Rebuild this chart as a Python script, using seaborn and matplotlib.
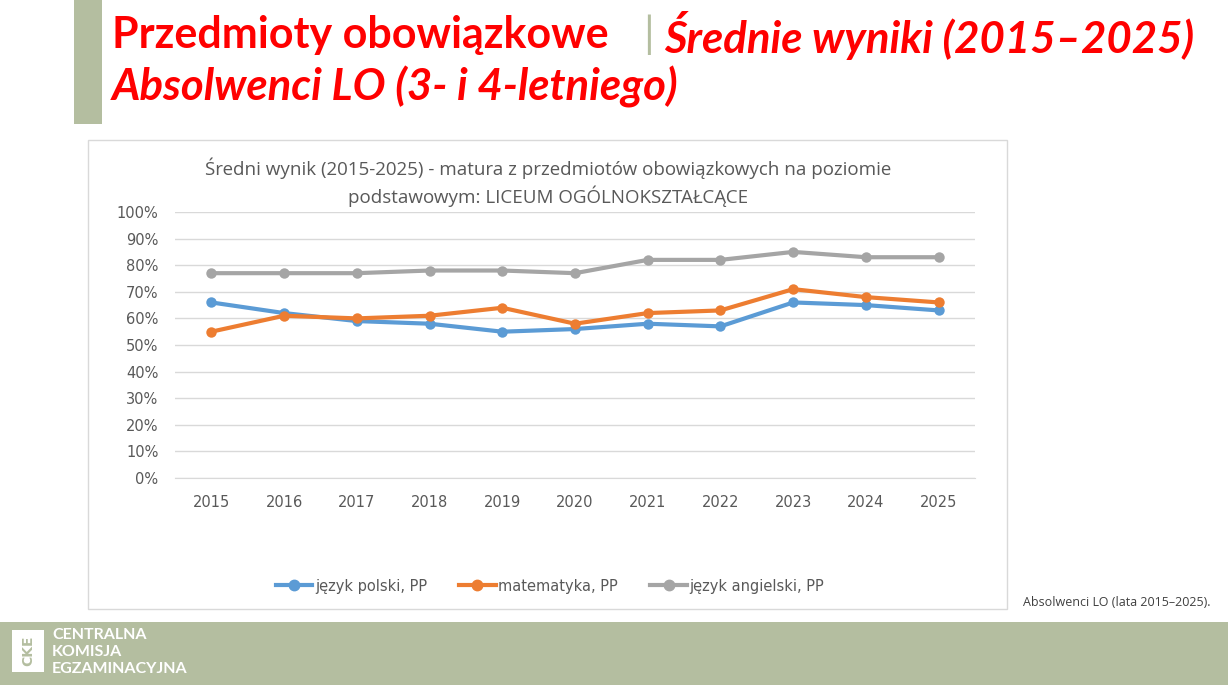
import numpy as np
import pandas as pd
import seaborn as sns
import matplotlib.pyplot as plt
from matplotlib.patches import Rectangle

years = [2015, 2016, 2017, 2018, 2019, 2020, 2021, 2022, 2023, 2024, 2025]
polski = [66, 62, 59, 58, 55, 56, 58, 57, 66, 65, 63]
matematyka = [55, 61, 60, 61, 64, 58, 62, 63, 71, 68, 66]
angielski = [77, 77, 77, 78, 78, 77, 82, 82, 85, 83, 83]
series_names = ["język polski, PP", "matematyka, PP", "język angielski, PP"]
colors = ["#5B9BD5", "#ED7D31", "#A5A5A5"]

rows = []
for name, vals in zip(series_names, [polski, matematyka, angielski]):
    for i, (y, v) in enumerate(zip(years, vals)):
        rows.append({"pos": i, "rok": y, "wynik": v, "seria": name})
df = pd.DataFrame(rows)

W, H = 1228, 685
fig = plt.figure(figsize=(W / 100, H / 100), dpi=100)
fig.patch.set_facecolor("white")

def box(x0, y0, x1, y1, **kw):
    fig.add_artist(Rectangle((x0 / W, 1 - y1 / H), (x1 - x0) / W, (y1 - y0) / H,
                             transform=fig.transFigure, **kw))

# slide decorations
box(74, 0, 102, 124, color="#B4BEA0", lw=0)
box(0, 622, W, H, color="#B4BEA0", lw=0)
box(88, 140, 1007, 609, facecolor="none", edgecolor="#D9D9D9", lw=1)

font = "Lato"
fig.text(112 / W, 1 - 35 / H, "Przedmioty obowiązkowe", color="#FF0000", fontsize=31,
         fontweight="bold", family=font, va="center")
fig.text(643 / W, 1 - 35 / H, "|", color="#B4BEA0", fontsize=31, family=font, va="center")
fig.text(664 / W, 1 - 35 / H, "Średnie wyniki (2015–2025)", color="#FF0000", fontsize=31.5,
         fontweight="bold", style="italic", family=font, va="center")
fig.text(112 / W, 1 - 87 / H, "Absolwenci LO (3- i 4-letniego)", color="#FF0000", fontsize=31.5,
         fontweight="bold", style="italic", family=font, va="center")

fig.text(548 / W, 1 - 168 / H, "Średni wynik (2015-2025) - matura z przedmiotów obowiązkowych na poziomie",
         ha="center", va="center", fontsize=13.5, color="#595959", family="Open Sans")
fig.text(548 / W, 1 - 196 / H, "podstawowym: LICEUM OGÓLNOKSZTAŁCĄCE",
         ha="center", va="center", fontsize=13.5, color="#595959", family="Open Sans")
fig.text(1023 / W, 1 - 603 / H, "Absolwenci LO (lata 2015–2025).", fontsize=9,
         color="#404040", va="center", family="Open Sans")

# logo
box(12, 630, 44, 672, color="white", lw=0)
fig.text(28 / W, 1 - 651 / H, "CKE", rotation=90, ha="center", va="center",
         fontsize=10, fontweight="bold", color="#B4BEA0")
for i, t in enumerate(["CENTRALNA", "KOMISJA", "EGZAMINACYJNA"]):
    fig.text(52 / W, 1 - (635 + i * 17) / H, t, color="white", fontsize=11.5,
             fontweight="bold", va="center", family=font)

ax = fig.add_axes([175 / W, 1 - 478 / H, 800 / W, 266 / H])
sns.lineplot(data=df, x="pos", y="wynik", hue="seria", palette=colors, marker="o",
             markersize=7.5, markeredgewidth=0, linewidth=3, ax=ax, legend=False)
ax.set_xlim(-0.5, 10.5)
ax.set_ylim(0, 100)
ax.set_yticks(range(0, 101, 10))
ax.set_yticklabels([f"{v}%" for v in range(0, 101, 10)])
ax.set_xticks(range(len(years)))
ax.set_xticklabels(years)
ax.grid(axis="y", color="#D9D9D9", lw=1)
ax.set_axisbelow(True)
for s in ["top", "right", "left"]:
    ax.spines[s].set_visible(False)
ax.spines["bottom"].set_color("#D9D9D9")
ax.tick_params(length=0, labelsize=10.5, colors="#595959", pad=12)
ax.set_xlabel("")
ax.set_ylabel("")

handles = [plt.Line2D([], [], color=c, marker="o", lw=3, markersize=7.5) for c in colors]
fig.legend(handles, series_names, loc="center", bbox_to_anchor=(550 / W, 1 - 586 / H),
           ncol=3, frameon=False, fontsize=10.5, labelcolor="#595959", handlelength=2.5,
           columnspacing=2.2, handletextpad=0.2)

fig.savefig("out.png", dpi=100)
